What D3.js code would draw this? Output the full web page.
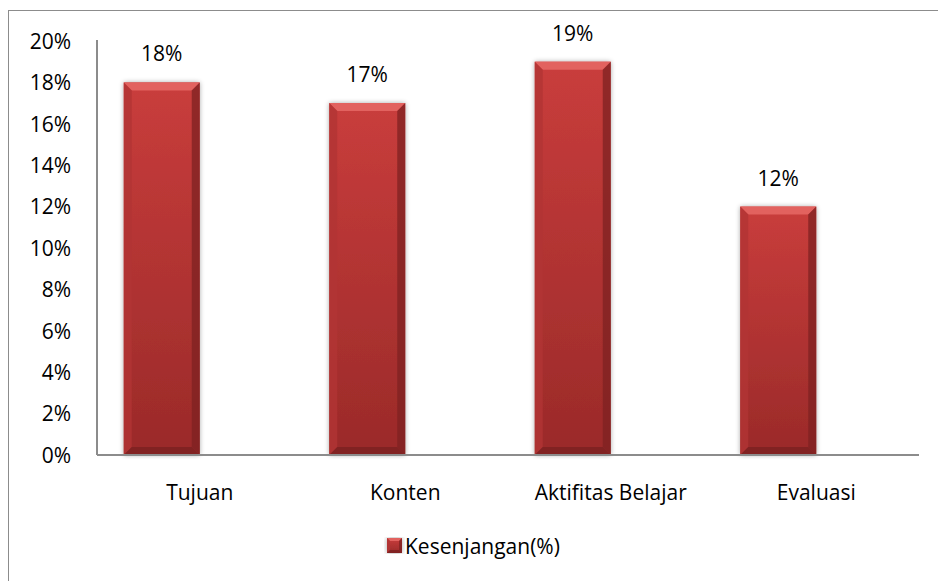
<!DOCTYPE html>
<html>
<head>
<meta charset="utf-8">
<script src="https://cdn.jsdelivr.net/npm/d3@7"></script>
<style>
  body { margin: 0; background: #fff; }
  text { font-family: "Open Sans", Lato, sans-serif; fill: #000; }
</style>
</head>
<body>
<script>
// data
var categories = ["Tujuan", "Konten", "Aktifitas Belajar", "Evaluasi"];
var seriesName = "Kesenjangan(%)";
var values = [0.18, 0.17, 0.19, 0.12];
var valueLabels = ["18%", "17%", "19%", "12%"];
var yTicks = [0, 0.02, 0.04, 0.06, 0.08, 0.10, 0.12, 0.14, 0.16, 0.18, 0.20];

var width = 938, height = 581;
var plot = {left: 97, right: 919, top: 41, bottom: 455};
var fontSize = "21px";

var svg = d3.select("body").append("svg")
   .attr("width", width)
   .attr("height", height);

// outer frame (only top/left visible in picture)
svg.append("rect")
   .attr("x", 8.5).attr("y", 10.5)
   .attr("width", 1000).attr("height", 1000)
   .style("fill", "none")
   .style("stroke", "#8c8c8c")
   .style("stroke-width", 1);

var defs = svg.append("defs");
var grad = defs.append("linearGradient")
   .attr("id", "face").attr("x1", 0).attr("y1", 0).attr("x2", 0).attr("y2", 1);
grad.append("stop").attr("offset", "0%").attr("stop-color", "#c93d3c");
grad.append("stop").attr("offset", "100%").attr("stop-color", "#9a2a29");

var shadow = defs.append("filter").attr("id", "shadow")
   .attr("x", "-20%").attr("y", "-5%").attr("width", "140%").attr("height", "110%");
shadow.append("feGaussianBlur").attr("in", "SourceAlpha").attr("stdDeviation", 2.5);
shadow.append("feComponentTransfer").append("feFuncA").attr("type", "linear").attr("slope", 0.35);
var merge = shadow.append("feMerge");
merge.append("feMergeNode");
merge.append("feMergeNode").attr("in", "SourceGraphic");

// scales
var x0 = d3.scaleBand().domain(categories).range([plot.left, plot.right]);
var x1 = d3.scaleBand().domain([0, 1]).range([0, x0.bandwidth()]).paddingOuter(0.352);
var y = d3.scaleLinear().domain([0, 0.20]).range([plot.bottom, plot.top]);

// y axis labels
var yAxis = d3.axisLeft(y).tickValues(yTicks).tickSize(0).tickPadding(26)
   .tickFormat(d3.format(".0%"));
var yg = svg.append("g").attr("transform", "translate(" + plot.left + ",0)").call(yAxis);
yg.select(".domain").remove();
yg.selectAll("text")
   .style("font-size", fontSize)
   .style("font-family", "'Open Sans', Lato, sans-serif")
   .attr("dy", "0.35em");

// bevelled bar
function bevelBar(g, bx, by, bw, bh, b) {
   var x2 = bx + bw, y2 = by + bh;
   g.append("rect").attr("x", bx).attr("y", by).attr("width", bw).attr("height", bh)
      .style("fill", "url(#face)").attr("filter", "url(#shadow)");
   // top bevel
   g.append("polygon")
      .attr("points", [[bx, by], [x2, by], [x2 - b, by + b], [bx + b, by + b]].join(" "))
      .style("fill", "#e2625f");
   // left bevel
   g.append("polygon")
      .attr("points", [[bx, by], [bx + b, by + b], [bx + b, y2 - b], [bx, y2]].join(" "))
      .style("fill", "#b23534").style("opacity", 0.8);
   // right bevel
   g.append("polygon")
      .attr("points", [[x2, by], [x2, y2], [x2 - b, y2 - b], [x2 - b, by + b]].join(" "))
      .style("fill", "#7e2221").style("opacity", 0.75);
   // bottom bevel
   g.append("polygon")
      .attr("points", [[bx, y2], [x2, y2], [x2 - b, y2 - b], [bx + b, y2 - b]].join(" "))
      .style("fill", "#7a2020").style("opacity", 0.8);
}

var bars = svg.append("g");
values.forEach(function (v, i) {
   var bx = x0(categories[i]) + x1(0);
   var g = bars.append("g");
   bevelBar(g, bx, y(v), x1.bandwidth(), y(0) - y(v), 8);
});

// axes lines
svg.append("line")
   .attr("x1", plot.left).attr("x2", plot.left)
   .attr("y1", plot.top - 1).attr("y2", plot.bottom)
   .style("stroke", "#8c8c8c").style("stroke-width", 2);
svg.append("line")
   .attr("x1", plot.left).attr("x2", plot.right)
   .attr("y1", plot.bottom).attr("y2", plot.bottom)
   .style("stroke", "#8c8c8c").style("stroke-width", 2);

// value labels
svg.append("g").selectAll("text")
   .data(values)
   .enter().append("text")
   .attr("x", function (d, i) { return x0(categories[i]) + x1(0) + x1.bandwidth() / 2; })
   .attr("y", function (d) { return y(d) - 21; })
   .attr("text-anchor", "middle")
   .style("font-size", fontSize)
   .text(function (d, i) { return valueLabels[i]; });

// category labels
svg.append("g").selectAll("text")
   .data(categories)
   .enter().append("text")
   .attr("x", function (d) { return x0(d) + x0.bandwidth() / 2; })
   .attr("y", 500)
   .attr("text-anchor", "middle")
   .style("font-size", fontSize)
   .text(function (d) { return d; });

// legend
var lg = svg.append("g");
bevelBar(lg, 387, 538, 15, 15, 3);
lg.append("text")
   .attr("x", 405).attr("y", 554)
   .style("font-size", fontSize)
   .text(seriesName);
</script>
</body>
</html>
